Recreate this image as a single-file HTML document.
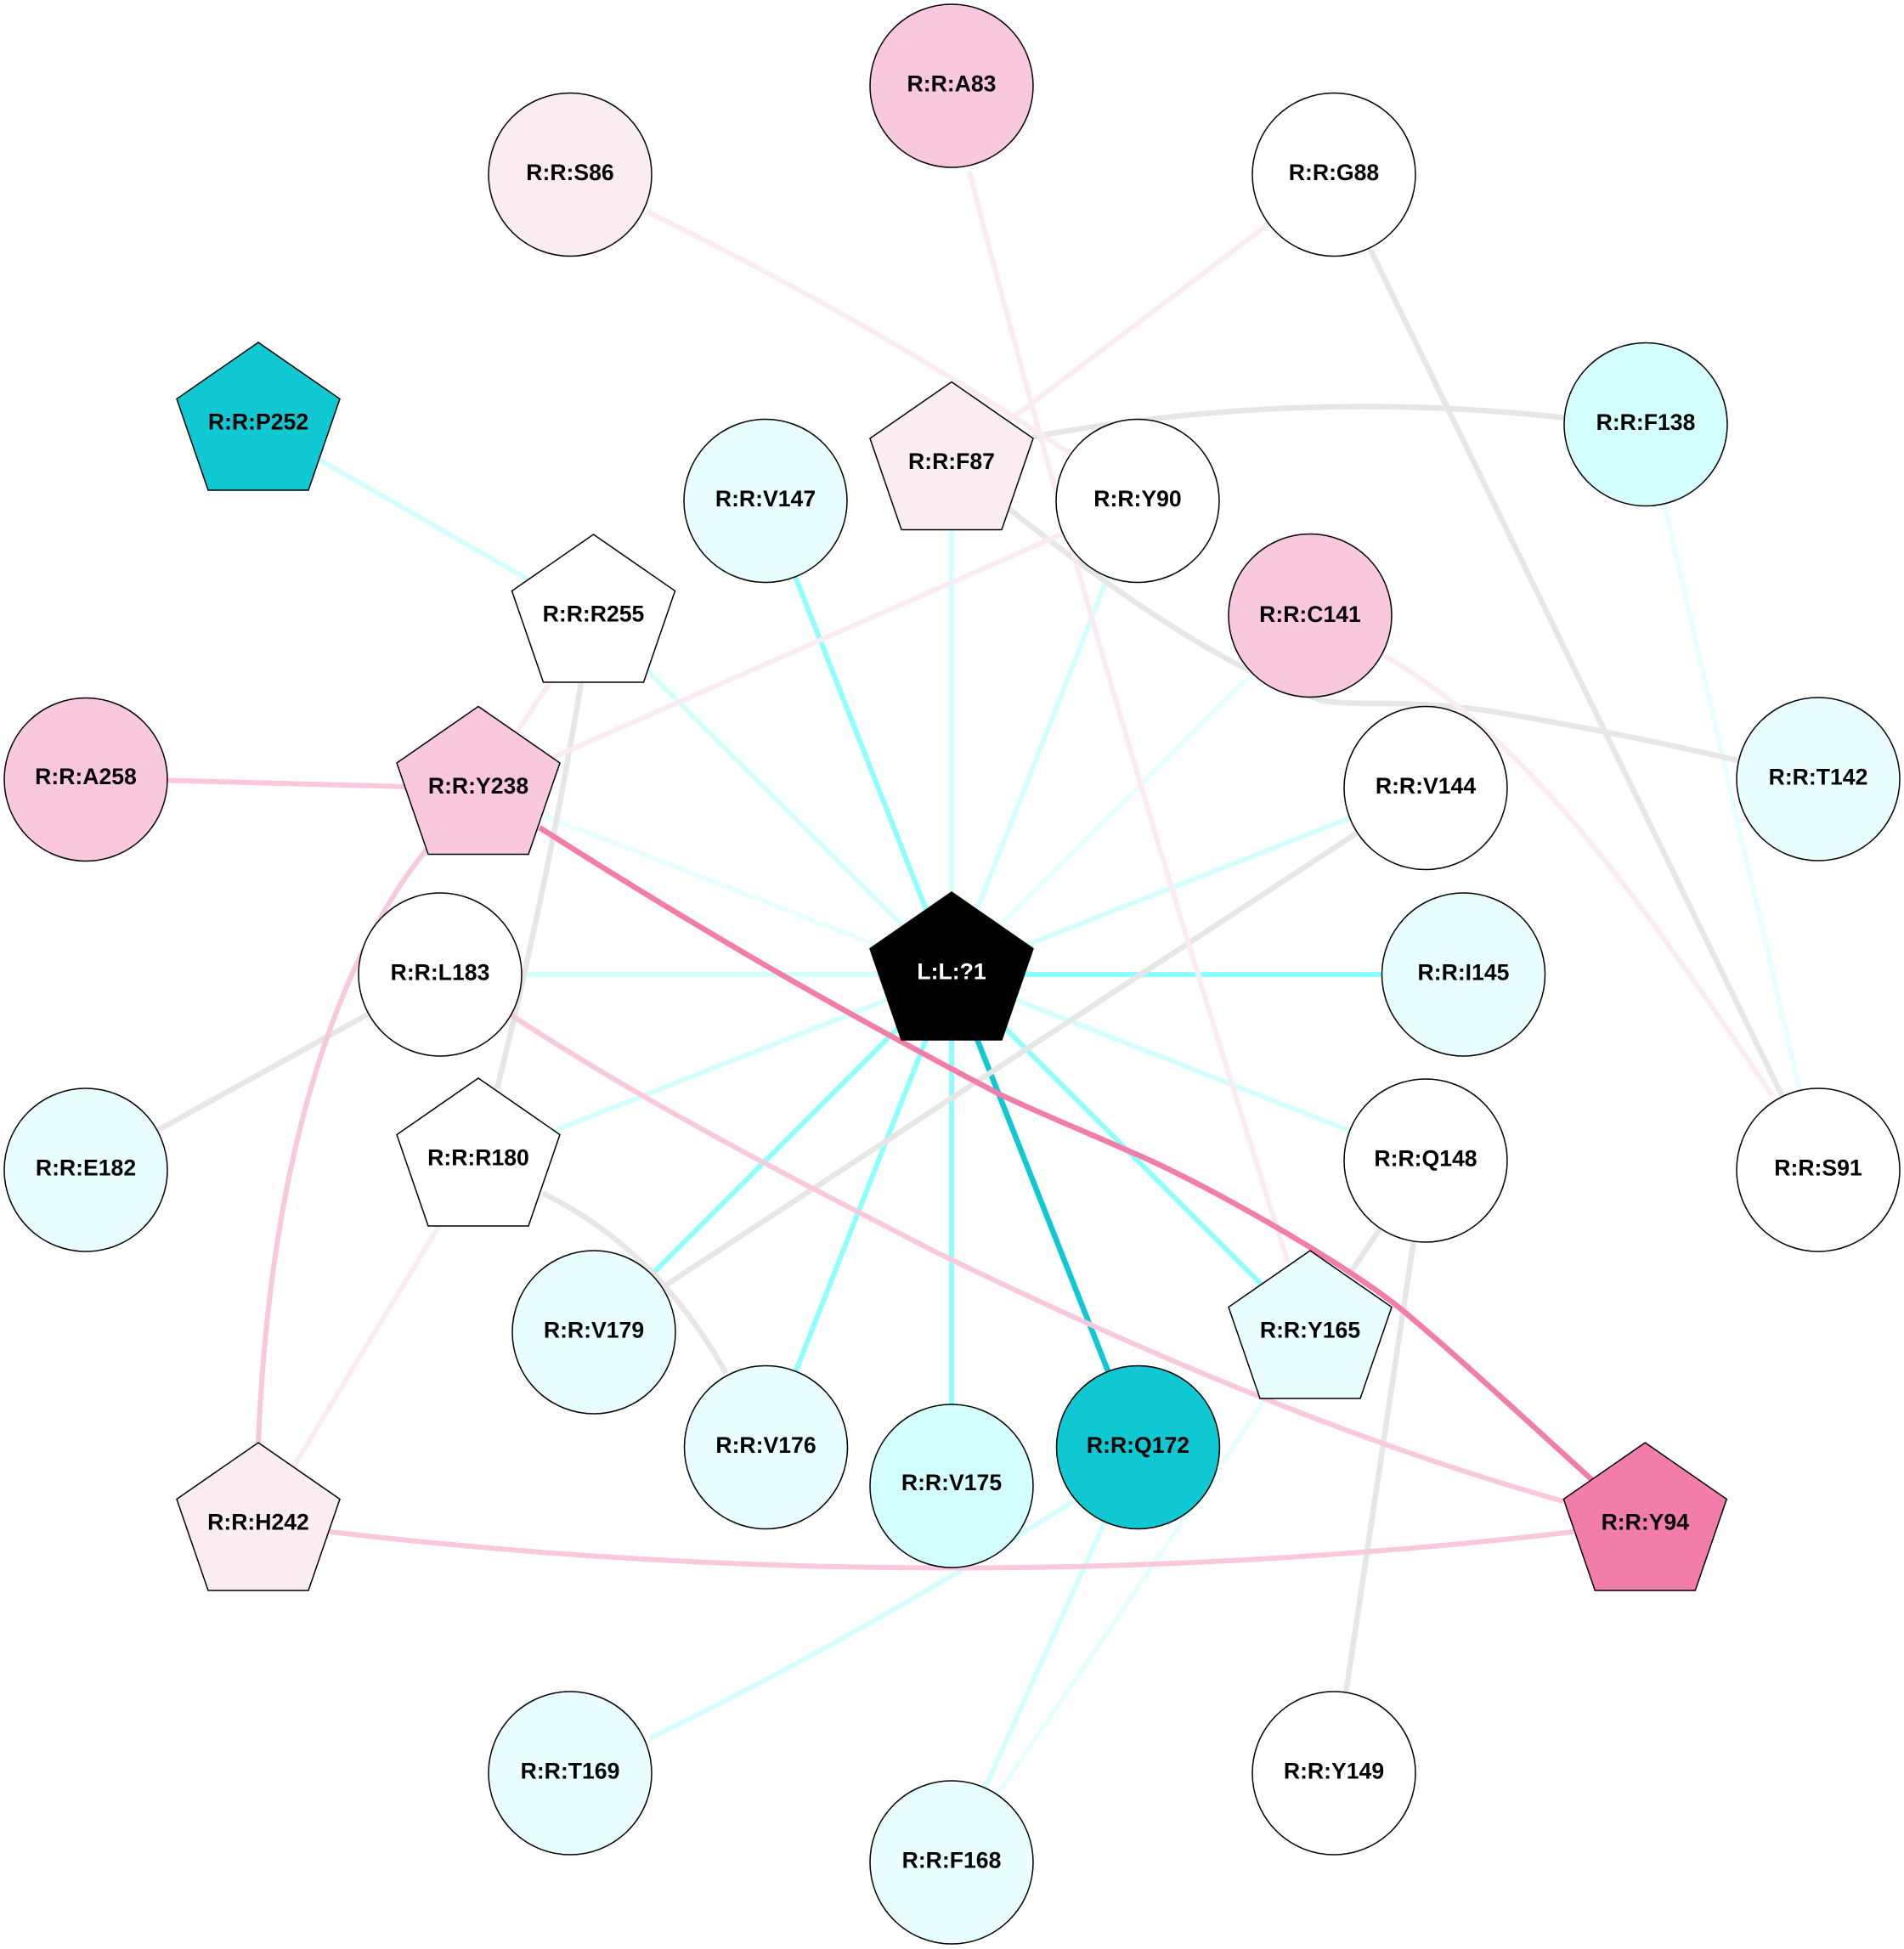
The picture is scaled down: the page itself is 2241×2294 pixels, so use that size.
<!DOCTYPE html>
<html>
<head>
<meta charset="utf-8">
<style>
html,body{margin:0;padding:0;background:#fff;}
svg{display:block;}
text{font-family:"Liberation Sans",Arial,sans-serif;font-weight:bold;font-size:26.6px;text-anchor:middle;fill:#000;}
.e path{fill:none;stroke-width:6;}
.c{stroke:#8effff;}
.d{stroke:#d4ffff;}
.f{stroke:#e9ffff;}
.t{stroke:#0fc8d2;stroke-width:6.5 !important;}
.g{stroke:#e6e6e6;stroke-width:6.5 !important;}
.p{stroke:#fbecf3;}
.k{stroke:#f9c8de;}
.m{stroke:#f27dab;stroke-width:6.5 !important;}
circle,polygon{stroke:#000;stroke-width:1.5;}
</style>
</head>
<body>
<svg width="2241" height="2294" viewBox="0 0 2241 2294" xmlns="http://www.w3.org/2000/svg">
<rect width="2241" height="2294" fill="#fff"/>
<g class="e">
<!-- ligand edges -->
<path class="d" d="M1120 1147L698.5 726"/>
<path class="c" d="M1120 1147L901 589.5"/>
<path class="d" d="M1120 1147L1120 546"/>
<path class="d" d="M1120 1147L1339 589.5"/>
<path class="f" d="M1120 1147L1542 724.5"/>
<path class="d" d="M1120 1147L1678 927.5"/>
<path class="c" d="M1120 1147L1722 1147"/>
<path class="d" d="M1120 1147L1678 1366"/>
<path class="c" d="M1120 1147L1542 1569"/>
<path class="t" d="M1120 1147L1339.5 1703.5"/>
<path class="c" d="M1120 1147L1120 1749.5"/>
<path class="c" d="M1120 1147L901.5 1703.5"/>
<path class="c" d="M1120 1147L699 1568"/>
<path class="d" d="M1120 1147L563 1366"/>
<path class="d" d="M1120 1147L518 1147"/>
<path class="f" d="M1120 1147L563 930"/>
<!-- light cyan others -->
<path class="d" d="M304 500L698.5 726"/>
<path class="f" d="M1937 499.5L2140 1377"/>
<path class="d" d="M1263 1767Q1014 1925 765 2046"/>
<path class="d" d="M1339.5 1703.5L1120 2192"/>
<path class="f" d="M1542 1569L1120 2192"/>
<!-- gray -->
<path class="g" d="M1216 514Q1530 457 1841 491.6"/>
<path class="g" d="M1185 597C1290 680 1440 790 1558 825C1610 832 1660 822 1760 838C1860 855 1960 875 2045 895"/>
<path class="g" d="M1678 927.5L699 1568"/>
<path class="g" d="M684 803Q645.500 1037.500 585 1282"/>
<path class="g" d="M518 1147L101 1377"/>
<path class="g" d="M639 1404.500Q773 1470 854.400 1616"/>
<path class="g" d="M1678 1366L1542 1569"/>
<path class="g" d="M1678 1366L1570 2087"/>
<!-- pale pink -->
<path class="p" d="M761 249Q1015 372 1258 533"/>
<path class="p" d="M1570 205.500L1120 546"/>
<path class="p" d="M1141 202Q1285 760 1516 1486"/>
<path class="p" d="M1630 772C1780 860 1900 1010 2086 1290"/>
<path class="p" d="M1339 589.500L563 930"/>
<path class="p" d="M698.500 726L563 930"/>
<path class="p" d="M563 1366L304 1795"/>
<path class="g" d="M1570 205.500L2140 1377"/>
<!-- pink -->
<path class="k" d="M197 918.500L480 926"/>
<path class="k" d="M502 1000C420 1100 320 1310 304 1698"/>
<path class="k" d="M388 1803Q1120 1888 1852 1803"/>
<path class="k" d="M602 1195C770 1305 930 1385 1100 1473C1340 1590 1600 1700 1840 1767"/>
<!-- strong pink -->
<path class="m" d="M635 974C810 1086 980 1185 1176.700 1288C1225 1311 1280 1333 1326.700 1354C1410 1388 1580 1485 1648 1540C1720 1600 1800 1675 1885 1752"/>
</g>
<!-- circles -->
<circle cx="1120" cy="101" r="96" fill="#f9c8de"/><text x="1120" y="107.500">R:R:A83</text>
<circle cx="671" cy="205.500" r="96" fill="#fbecf3"/><text x="671" y="212">R:R:S86</text>
<circle cx="1570" cy="205.500" r="96" fill="#fff"/><text x="1570" y="212">R:R:G88</text>
<circle cx="901" cy="589.500" r="96" fill="#e9ffff"/><text x="901" y="596">R:R:V147</text>
<circle cx="1339" cy="589.500" r="96" fill="#fff"/><text x="1339" y="596">R:R:Y90</text>
<circle cx="1937" cy="499.500" r="96" fill="#d4ffff"/><text x="1937" y="506">R:R:F138</text>
<circle cx="1542" cy="724.500" r="96" fill="#f9c8de"/><text x="1542" y="732">R:R:C141</text>
<circle cx="101" cy="917.500" r="96" fill="#f9c8de"/><text x="101" y="923">R:R:A258</text>
<circle cx="1678" cy="927.500" r="96" fill="#fff"/><text x="1678" y="934">R:R:V144</text>
<circle cx="2140" cy="917" r="96" fill="#e9ffff"/><text x="2140" y="923.500">R:R:T142</text>
<circle cx="518" cy="1147" r="96" fill="#fff"/><text x="518" y="1153.500">R:R:L183</text>
<circle cx="1722.500" cy="1147" r="96" fill="#e9ffff"/><text x="1722.500" y="1153.500">R:R:I145</text>
<circle cx="101" cy="1377" r="96" fill="#e9ffff"/><text x="101" y="1383.500">R:R:E182</text>
<circle cx="1678" cy="1366" r="96" fill="#fff"/><text x="1678" y="1372.500">R:R:Q148</text>
<circle cx="2140" cy="1377" r="96" fill="#fff"/><text x="2140" y="1383.500">R:R:S91</text>
<circle cx="699" cy="1568" r="96" fill="#e9ffff"/><text x="699" y="1574.500">R:R:V179</text>
<circle cx="901.500" cy="1703.500" r="96" fill="#e9ffff"/><text x="901.500" y="1710">R:R:V176</text>
<circle cx="1120" cy="1749" r="96" fill="#d4ffff"/><text x="1120" y="1754">R:R:V175</text>
<circle cx="1339.500" cy="1703.500" r="96" fill="#0fc8d2"/><text x="1339.500" y="1710">R:R:Q172</text>
<circle cx="671" cy="2087" r="96" fill="#e9ffff"/><text x="671" y="2093.500">R:R:T169</text>
<circle cx="1120" cy="2192" r="96" fill="#e9ffff"/><text x="1120" y="2198.500">R:R:F168</text>
<circle cx="1570" cy="2087" r="96" fill="#fff"/><text x="1570" y="2093.500">R:R:Y149</text>
<!-- pentagons -->
<polygon points="304,403 400,469.500 363,577 245,577 208,469.500" fill="#0fc8d2"/><text x="304" y="505.500">R:R:P252</text>
<polygon points="1120,449.500 1216,516 1179,623.500 1061,623.500 1024,516" fill="#fbecf3"/><text x="1120" y="552">R:R:F87</text>
<polygon points="698.500,629 794.500,695.500 757.500,803 639.500,803 602.500,695.500" fill="#fff"/><text x="698.500" y="731.500">R:R:R255</text>
<polygon points="563,831.500 659,898 622,1005.500 504,1005.500 467,898" fill="#f9c8de"/><text x="563" y="934">R:R:Y238</text>
<polygon points="1120,1050 1216,1116.500 1179,1224 1061,1224 1024,1116.500" fill="#000"/><text x="1120" y="1152.500" style="fill:#fff">L:L:?1</text>
<polygon points="563,1269 659,1335.500 622,1443 504,1443 467,1335.500" fill="#fff"/><text x="563" y="1371.500">R:R:R180</text>
<polygon points="1542,1472 1638,1538.500 1601,1646 1483,1646 1446,1538.500" fill="#e9ffff"/><text x="1542" y="1574.500">R:R:Y165</text>
<polygon points="304,1698 400,1764.500 363,1872 245,1872 208,1764.500" fill="#fbecf3"/><text x="304" y="1800.500">R:R:H242</text>
<polygon points="1936.300,1698 2032.300,1764.500 1995.300,1872 1877.300,1872 1840.300,1764.500" fill="#f27dab"/><text x="1936.300" y="1800.500">R:R:Y94</text>
</svg>
</body>
</html>
